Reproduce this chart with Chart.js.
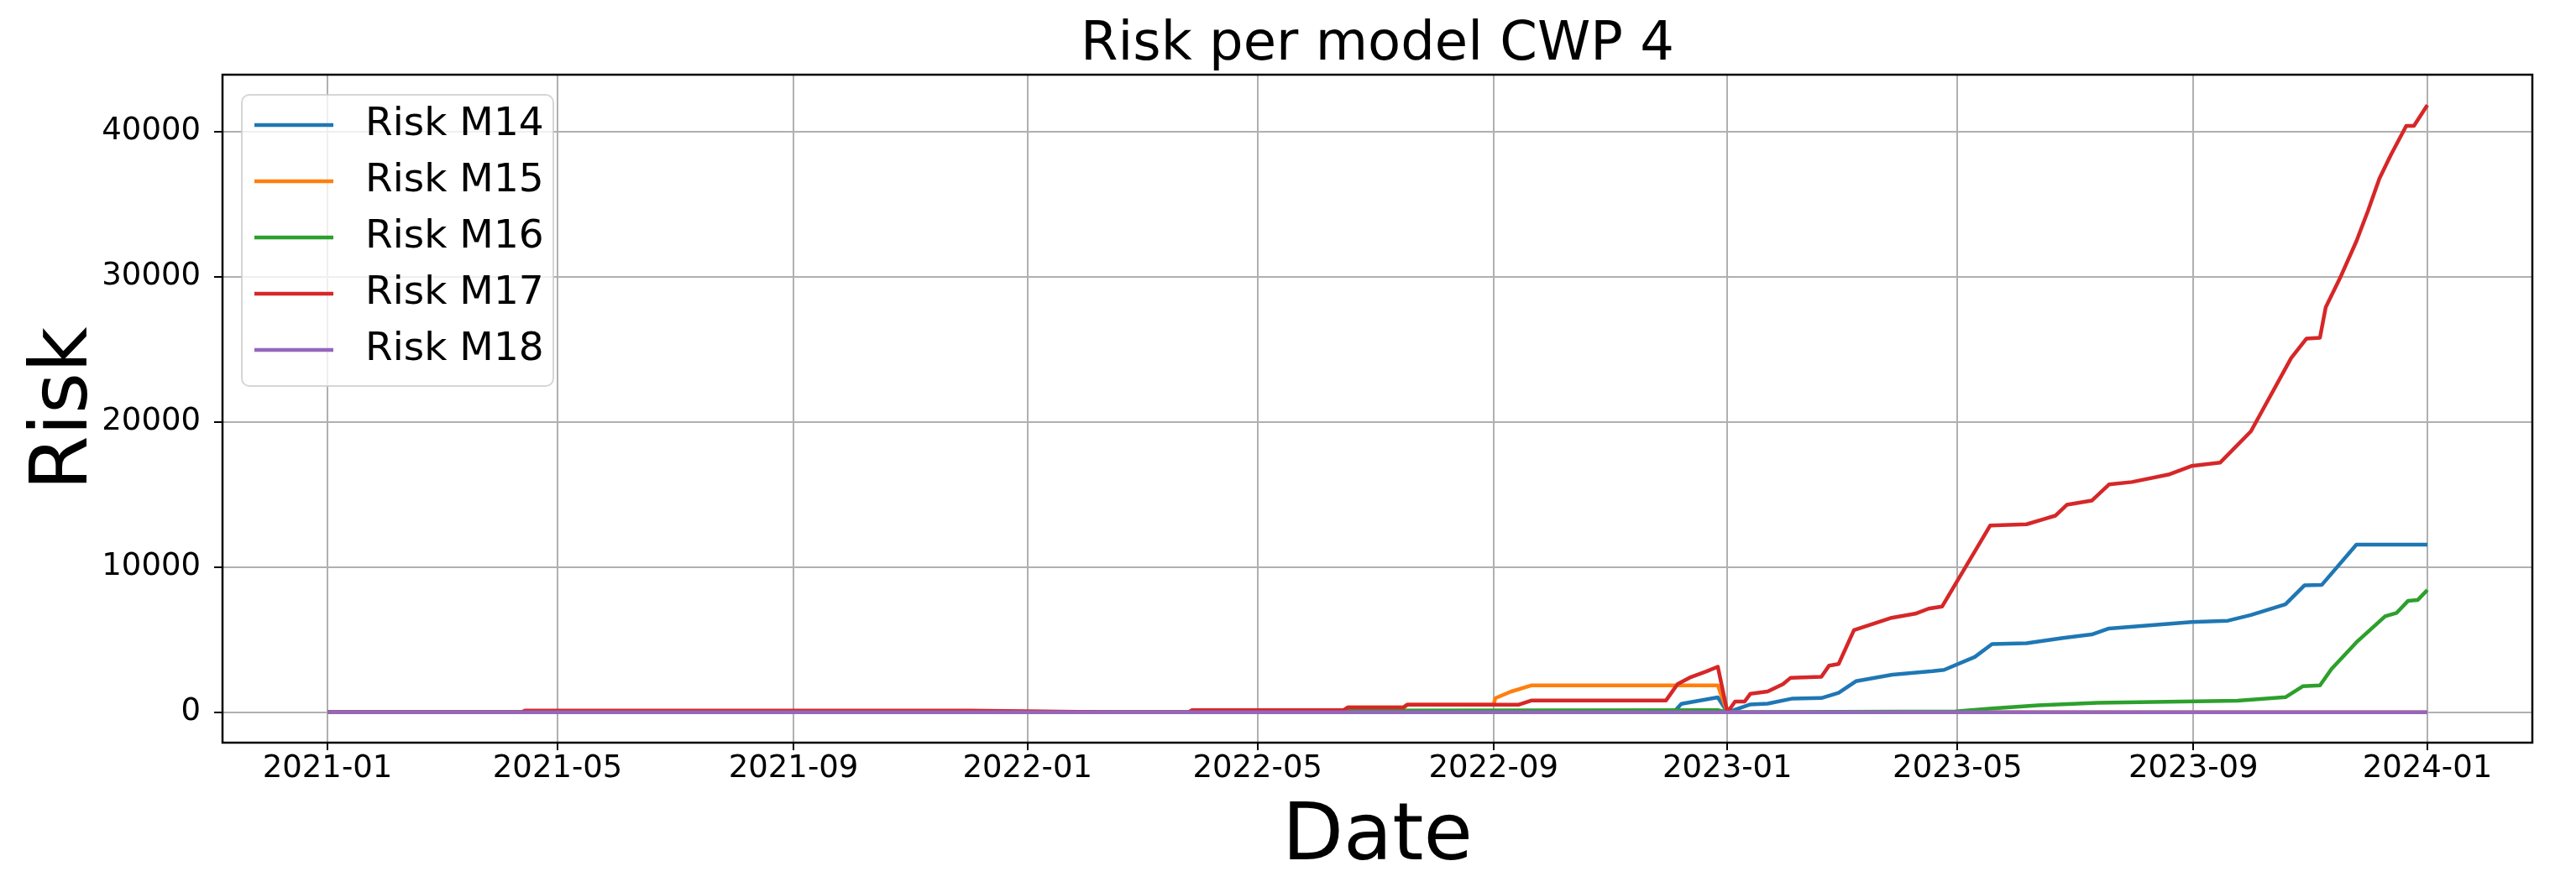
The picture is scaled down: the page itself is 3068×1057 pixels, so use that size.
<!DOCTYPE html>
<html>
<head>
<meta charset="utf-8">
<title>Risk per model CWP 4</title>
<script src="https://cdn.jsdelivr.net/npm/chart.js@4/dist/chart.umd.min.js"></script>
<style>
  html, body { margin: 0; padding: 0; background: #fff; }
</style>
</head>
<body>
<canvas id="riskChart" width="3068" height="1057"></canvas>
<script>
// Risk M14
const m14Dates = ['2021-01-01', '2022-12-04', '2022-12-08', '2022-12-27', '2023-01-01', '2023-01-13', '2023-01-22', '2023-02-04', '2023-02-19', '2023-02-28', '2023-03-09', '2023-03-28', '2023-04-18', '2023-04-24', '2023-05-10', '2023-05-19', '2023-06-06', '2023-06-25', '2023-07-10', '2023-07-19', '2023-08-31', '2023-09-19', '2023-10-01', '2023-10-19', '2023-10-29', '2023-11-07', '2023-11-25', '2024-01-01'];
const m14Values = [0, 0, 580, 1030, 0, 540, 600, 950, 980, 1340, 2140, 2590, 2830, 2920, 3810, 4700, 4760, 5120, 5360, 5770, 6220, 6310, 6700, 7440, 8750, 8780, 11550, 11550];

// Risk M15
const m15Dates = ['2021-01-01', '2021-04-12', '2021-04-14', '2021-12-01', '2022-02-15', '2022-03-26', '2022-03-28', '2022-06-15', '2022-06-17', '2022-07-16', '2022-07-18', '2022-09-01', '2022-09-02', '2022-09-10', '2022-09-21', '2022-12-27', '2023-01-01', '2024-01-01'];
const m15Values = [0, 0, 80, 80, 0, 0, 150, 150, 330, 330, 520, 520, 970, 1420, 1860, 1860, 0, 0];

// Risk M16
const m16Dates = ['2021-01-01', '2022-03-26', '2022-03-28', '2022-12-27', '2023-01-01', '2023-04-30', '2023-05-19', '2023-06-12', '2023-07-13', '2023-09-24', '2023-10-19', '2023-10-28', '2023-11-06', '2023-11-12', '2023-11-25', '2023-12-10', '2023-12-16', '2023-12-22', '2023-12-27', '2024-01-01'];
const m16Values = [0, 0, 100, 150, 0, 60, 270, 480, 660, 800, 1040, 1790, 1850, 2980, 4820, 6610, 6850, 7680, 7740, 8420];

// Risk M17
const m17Dates = ['2021-01-01', '2021-04-12', '2021-04-14', '2021-12-01', '2022-02-15', '2022-03-26', '2022-03-28', '2022-06-15', '2022-06-17', '2022-07-16', '2022-07-18', '2022-09-14', '2022-09-21', '2022-11-30', '2022-12-06', '2022-12-13', '2022-12-21', '2022-12-27', '2023-01-01', '2023-01-05', '2023-01-10', '2023-01-13', '2023-01-22', '2023-01-30', '2023-02-03', '2023-02-19', '2023-02-23', '2023-02-28', '2023-03-08', '2023-03-18', '2023-03-27', '2023-04-09', '2023-04-16', '2023-04-23', '2023-05-18', '2023-06-06', '2023-06-15', '2023-06-21', '2023-06-27', '2023-07-10', '2023-07-19', '2023-07-31', '2023-08-19', '2023-08-31', '2023-09-15', '2023-10-01', '2023-10-22', '2023-10-30', '2023-11-06', '2023-11-09', '2023-11-17', '2023-11-25', '2023-12-01', '2023-12-07', '2023-12-13', '2023-12-21', '2023-12-25', '2024-01-01'];
const m17Values = [0, 0, 120, 120, 0, 0, 150, 150, 330, 330, 520, 520, 820, 820, 1940, 2430, 2810, 3140, 0, 740, 740, 1280, 1430, 1940, 2380, 2440, 3210, 3330, 5660, 6100, 6490, 6790, 7140, 7290, 12860, 12950, 13300, 13540, 14290, 14580, 15690, 15860, 16370, 16960, 17200, 19350, 24400, 25740, 25800, 27890, 30060, 32440, 34520, 36760, 38390, 40390, 40390, 41820];

// Risk M18
const m18Dates = ['2021-01-01', '2024-01-01'];
const m18Values = [0, 0];

// osie
const xTickLabels = ['2021-01', '2021-05', '2021-09', '2022-01', '2022-05', '2022-09', '2023-01', '2023-05', '2023-09', '2024-01'];
const yTickValues = [0, 10000, 20000, 30000, 40000];

const FONT = 'DejaVu Sans';
const toTime = s => Date.parse(s + 'T00:00:00Z');
const toPoints = (dates, values) => dates.map((d, i) => ({x: toTime(d), y: values[i]}));
const pad2 = n => (n < 10 ? '0' : '') + n;

// marginesy 5% jak w matplotlib
const xFirst = toTime('2021-01-01');
const xLast = toTime('2024-01-01');
const xMargin = (xLast - xFirst) * 0.05;
const yMaxData = Math.max(...m17Values);
const yMargin = yMaxData * 0.05;

function line(label, dates, values, color, order) {
    return {
        label: label,
        data: toPoints(dates, values),
        borderColor: color,
        backgroundColor: color,
        borderWidth: 4.5,
        pointRadius: 0,
        tension: 0,
        borderJoinStyle: 'round',
        order: order
    };
}

// ramka wokół wykresu
const spines = {
    id: 'spines',
    afterDatasetsDraw(chart) {
        const ctx = chart.ctx;
        const a = chart.chartArea;
        ctx.save();
        ctx.strokeStyle = '#000';
        ctx.lineWidth = 2.5;
        ctx.strokeRect(a.left, a.top, a.right - a.left, a.bottom - a.top);
        ctx.restore();
    }
};

// legenda w lewym górnym rogu
const legendBox = {
    id: 'legendBox',
    afterDraw(chart) {
        const ctx = chart.ctx;
        const a = chart.chartArea;
        const x = a.left + 23, y = a.top + 24, w = 371, h = 347;
        ctx.save();
        ctx.beginPath();
        ctx.roundRect(x, y, w, h, 9);
        ctx.fillStyle = 'rgba(255,255,255,0.8)';
        ctx.fill();
        ctx.strokeStyle = 'rgba(204,204,204,0.8)';
        ctx.lineWidth = 2;
        ctx.stroke();
        ctx.font = '47px "' + FONT + '"';
        ctx.textBaseline = 'middle';
        chart.data.datasets.forEach((ds, i) => {
            const rowY = y + 36 + i * 67;
            ctx.strokeStyle = ds.borderColor;
            ctx.lineWidth = 4.5;
            ctx.beginPath();
            ctx.moveTo(x + 15, rowY);
            ctx.lineTo(x + 109, rowY);
            ctx.stroke();
            ctx.fillStyle = '#000';
            ctx.fillText(ds.label, x + 147, rowY);
        });
        ctx.restore();
    }
};

Chart.defaults.font.family = FONT;
Chart.defaults.color = '#000';

const chart = new Chart(document.getElementById('riskChart'), {
    type: 'line',
    data: {
        datasets: [
            line('Risk M14', m14Dates, m14Values, '#1f77b4', 4),
            line('Risk M15', m15Dates, m15Values, '#ff7f0e', 3),
            line('Risk M16', m16Dates, m16Values, '#2ca02c', 2),
            line('Risk M17', m17Dates, m17Values, '#d62728', 1),
            line('Risk M18', m18Dates, m18Values, '#9467bd', 0)
        ]
    },
    options: {
        responsive: false,
        devicePixelRatio: 1,
        animation: false,
        layout: {padding: {left: 0, right: 52, top: 0, bottom: 0}},
        plugins: {
            legend: {display: false},
            tooltip: {enabled: false},
            title: {
                display: true,
                fullSize: false,
                text: 'Risk per model CWP 4',
                color: '#000',
                font: {size: 64, weight: 'normal', lineHeight: 1},
                padding: {top: 22, bottom: 3}
            }
        },
        scales: {
            x: {
                type: 'linear',
                min: xFirst - xMargin,
                max: xLast + xMargin,
                afterBuildTicks: scale => {
                    scale.ticks = xTickLabels.map(l => ({value: toTime(l + '-01')}));
                },
                afterFit: scale => { scale.height = 172; },
                ticks: {
                    font: {size: 37},
                    padding: 0,
                    maxRotation: 0,
                    autoSkip: false,
                    callback: v => {
                        const d = new Date(v);
                        return d.getUTCFullYear() + '-' + pad2(d.getUTCMonth() + 1);
                    }
                },
                grid: {color: '#b0b0b0', lineWidth: 2, tickColor: '#000', tickLength: 9, tickWidth: 2},
                border: {display: false},
                title: {
                    display: true,
                    text: 'Date',
                    font: {size: 95, lineHeight: 1},
                    padding: {top: 0, bottom: 10}
                }
            },
            y: {
                type: 'linear',
                min: -yMargin,
                max: yMaxData + yMargin,
                afterBuildTicks: scale => {
                    scale.ticks = yTickValues.map(v => ({value: v}));
                },
                afterFit: scale => { scale.width = 265; },
                ticks: {
                    font: {size: 37},
                    padding: 16,
                    callback: v => String(v)
                },
                grid: {color: '#b0b0b0', lineWidth: 2, tickColor: '#000', tickLength: 10, tickWidth: 2},
                border: {display: false},
                title: {
                    display: true,
                    text: 'Risk',
                    font: {size: 94, lineHeight: 1},
                    padding: {top: 32, bottom: 0}
                }
            }
        }
    },
    plugins: [spines, legendBox]
});
</script>
</body>
</html>
